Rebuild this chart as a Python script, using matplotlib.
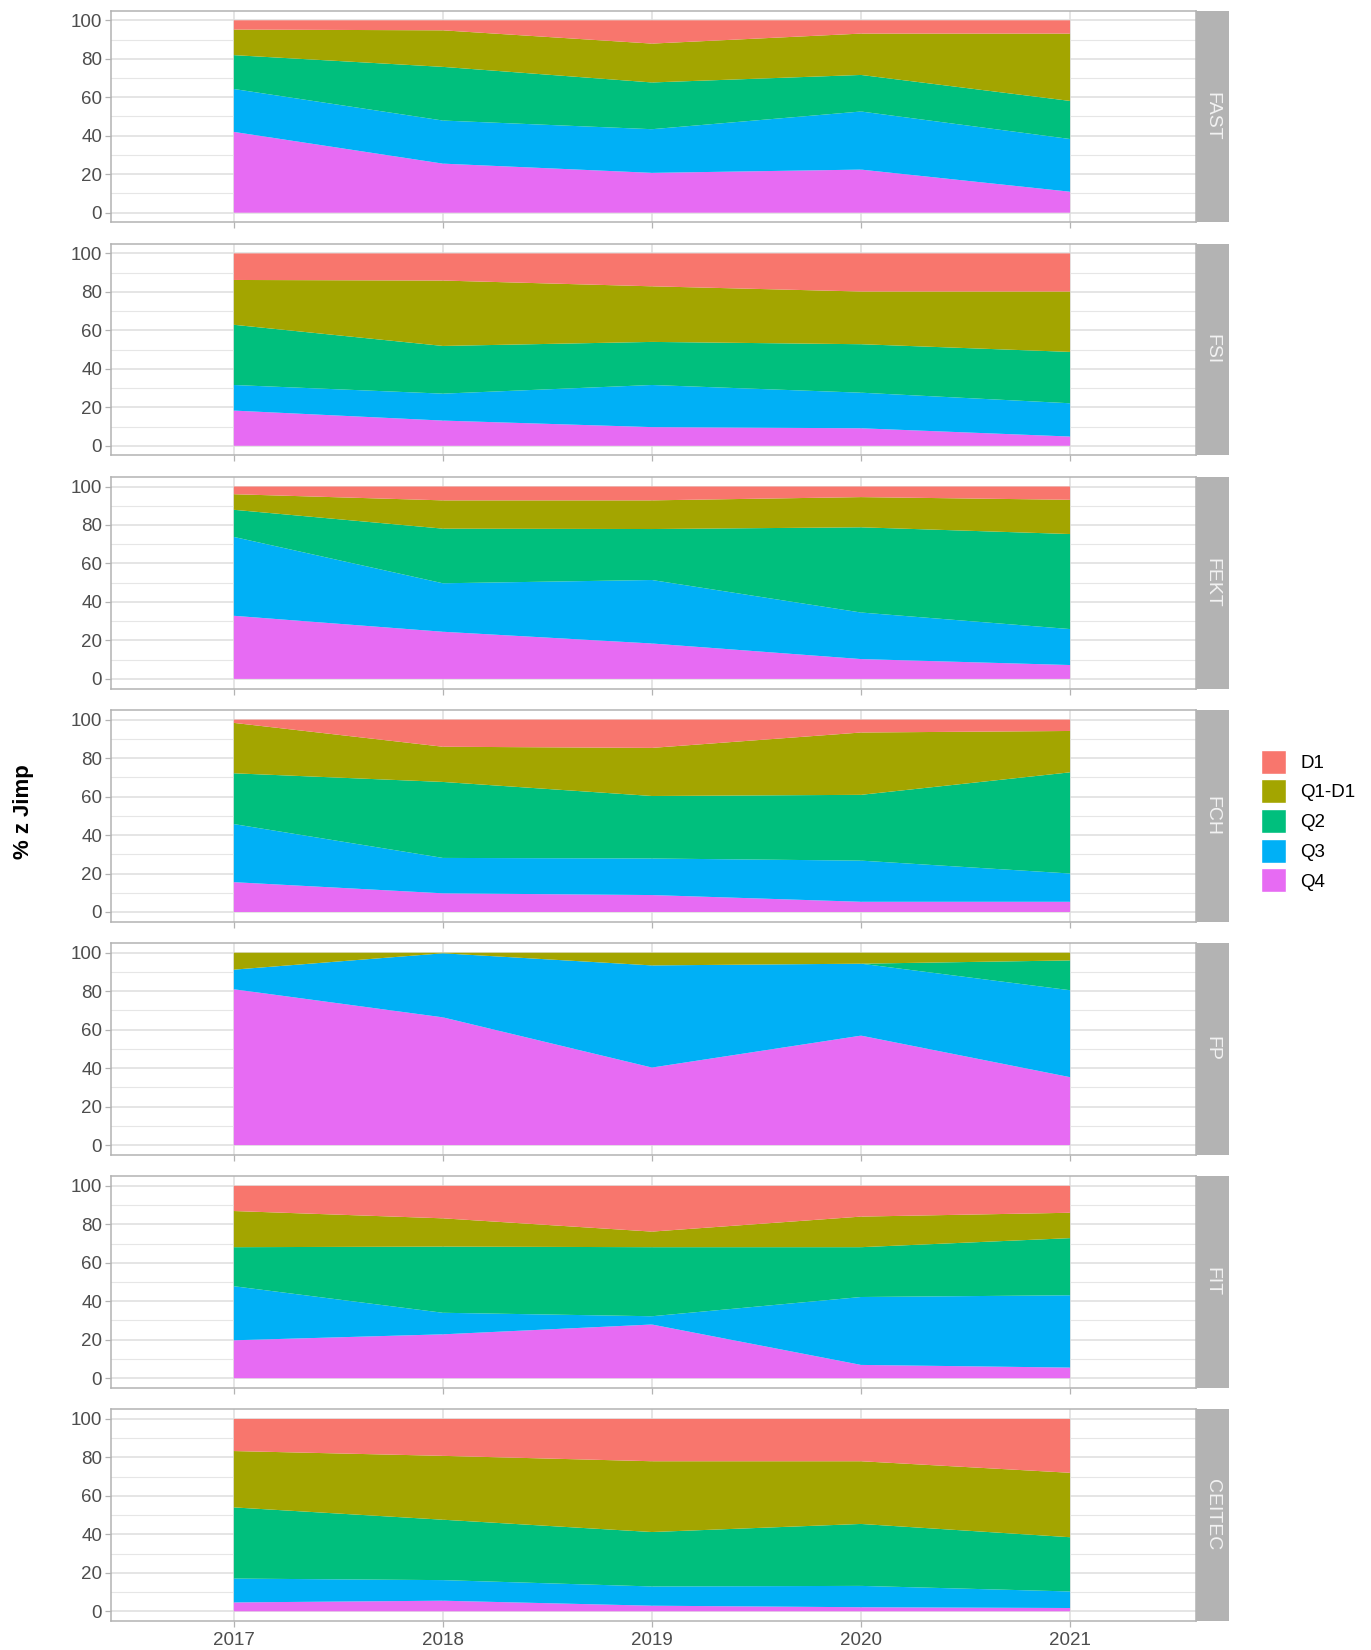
import matplotlib
matplotlib.use("Agg")
import matplotlib.pyplot as plt
from matplotlib.patches import Patch

plt.rcParams['font.family'] = ['Liberation Sans', 'DejaVu Sans']

# data: share (%) of each category per year, one row per faculty
years = [2017, 2018, 2019, 2020, 2021]
facets = ["FAST", "FSI", "FEKT", "FCH", "FP", "FIT", "CEITEC"]
categories = ["D1", "Q1-D1", "Q2", "Q3", "Q4"]
colors = ["#F8766D", "#A3A500", "#00BF7D", "#00B0F6", "#E76BF3"]

q4 = [[42.0, 25.5, 20.7, 22.4, 10.9],
      [18.3, 13.1, 9.7, 9.1, 4.8],
      [32.8, 24.5, 18.4, 10.3, 7.2],
      [15.5, 9.7, 8.8, 5.3, 5.3],
      [81.0, 66.4, 40.3, 56.9, 35.3],
      [19.7, 22.8, 27.9, 6.9, 5.5],
      [4.6, 5.5, 2.9, 2.1, 1.7]]
q3 = [[22.3, 22.4, 22.7, 30.2, 27.4],
      [13.3, 14.0, 21.9, 18.5, 17.3],
      [41.0, 25.2, 33.0, 24.2, 18.7],
      [30.2, 18.4, 19.0, 21.4, 14.7],
      [10.2, 33.3, 53.1, 37.4, 45.2],
      [28.1, 11.2, 4.3, 35.3, 37.6],
      [12.4, 10.7, 10.0, 11.1, 8.6]]
q2 = [[17.6, 27.9, 24.3, 19.0, 19.8],
      [31.3, 24.8, 22.4, 25.2, 26.7],
      [14.1, 28.4, 26.5, 44.3, 49.4],
      [26.4, 39.5, 32.5, 34.2, 52.6],
      [0.0, 0.0, 0.0, 0.0, 15.5],
      [20.3, 34.4, 35.9, 25.9, 29.7],
      [37.0, 31.4, 28.3, 32.2, 28.2]]
q1d1 = [[13.3, 19.0, 20.2, 21.5, 35.0],
        [23.3, 34.0, 28.9, 27.4, 31.4],
        [8.1, 14.7, 14.9, 15.7, 17.8],
        [26.2, 18.3, 25.0, 32.4, 21.5],
        [8.8, 0.3, 6.6, 5.7, 4.0],
        [18.8, 14.7, 8.1, 15.9, 13.2],
        [29.3, 33.2, 36.8, 32.6, 33.5]]
d1 = [[4.8, 5.2, 12.1, 6.9, 6.9],
      [13.8, 14.1, 17.1, 19.8, 19.8],
      [4.0, 7.2, 7.2, 5.5, 6.9],
      [1.7, 14.1, 14.7, 6.7, 5.9],
      [0.0, 0.0, 0.0, 0.0, 0.0],
      [13.1, 16.9, 23.8, 16.0, 14.0],
      [16.7, 19.2, 22.0, 22.0, 28.0]]

W, H = 1371, 1650
fig = plt.figure(figsize=(W / 100, H / 100), dpi=100)

left, right = 110.5, 1195.5
strip_w = 33.5
top0, ph, pitch = 10.7, 211.6, 233.1

for i, name in enumerate(facets):
    top = top0 + i * pitch
    ax = fig.add_axes([left / W, 1 - (top + ph) / H, (right - left) / W, ph / H])
    # stacking order bottom -> top: Q4, Q3, Q2, Q1-D1, D1
    ax.stackplot(years, q4[i], q3[i], q2[i], q1d1[i], d1[i],
                 colors=colors[::-1], linewidth=0, zorder=2)
    ax.set_xlim(2016.41, 2021.6)
    ax.set_ylim(-5, 105)
    ax.set_yticks([0, 20, 40, 60, 80, 100])
    ax.set_yticks([10, 30, 50, 70, 90], minor=True)
    ax.set_xticks(years)
    ax.grid(True, which='major', color='#DEDEDE', linewidth=1.1, zorder=0)
    ax.grid(True, which='minor', axis='y', color='#E6E6E6', linewidth=0.8, zorder=0)
    ax.set_axisbelow(True)
    for s in ax.spines.values():
        s.set_color('#B3B3B3')
        s.set_linewidth(1.1)
    ax.tick_params(which='major', color='#B3B3B3', length=4, width=0.9,
                   labelsize=13.5, labelcolor='#4D4D4D', pad=2)
    ax.tick_params(axis='x', pad=4)
    ax.tick_params(which='minor', length=0)
    if i < len(facets) - 1:
        ax.tick_params(axis='x', labelbottom=False)

    # facet strip on the right
    sax = fig.add_axes([right / W, 1 - (top + ph) / H, strip_w / W, ph / H])
    sax.set_facecolor('#B3B3B3')
    sax.set_xticks([])
    sax.set_yticks([])
    for s in sax.spines.values():
        s.set_visible(False)
    sax.text(0.5, 0.5, name, rotation=-90, ha='center', va='center',
             color='#F2F2F2', fontsize=14, transform=sax.transAxes)

fig.text(24 / W, 1 - 812 / H, "% z Jimp", rotation=90, ha='center', va='center',
         fontsize=16, fontweight='bold', color='black')

handles = [Patch(facecolor=c, edgecolor='white', label=l) for c, l in zip(colors, categories)]
fig.legend(handles=handles, loc='center left', bbox_to_anchor=(1261 / W, 1 - 821 / H),
           frameon=False, fontsize=13.5, handlelength=1.35, handleheight=1.6,
           labelspacing=0.3, handletextpad=0.75, borderpad=0, borderaxespad=0)

fig.savefig("out.png", dpi=100)
